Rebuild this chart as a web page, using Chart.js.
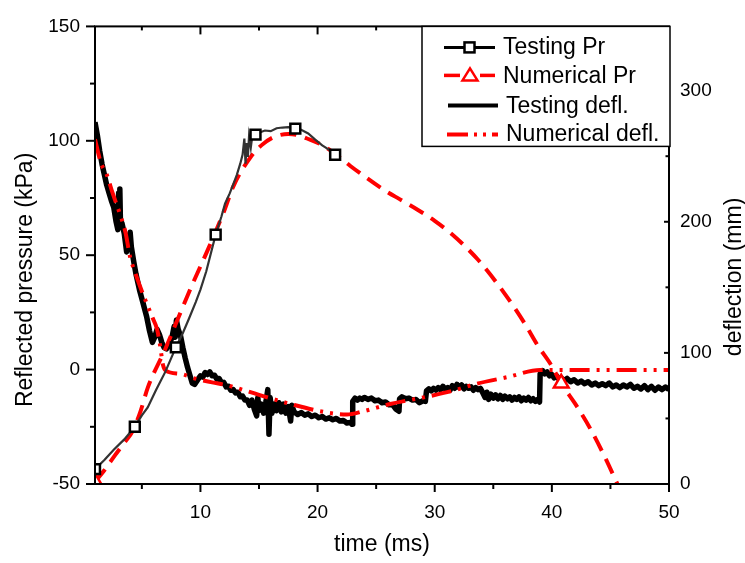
<!DOCTYPE html>
<html>
<head>
<meta charset="utf-8">
<script src="https://cdn.jsdelivr.net/npm/chart.js@4/dist/chart.umd.min.js"></script>
<style>html,body{margin:0;padding:0;background:#fff;}canvas{display:block;}</style>
</head>
<body>
<canvas id="c" width="745" height="563"></canvas>
<script>
// ---------- data ----------
const xTicks = [10, 20, 30, 40, 50];
const prTicks = [-50, 0, 50, 100, 150];
const deflTicks = [0, 100, 200, 300];
const seriesNames = ['Testing Pr', 'Numerical Pr', 'Testing defl.', 'Numerical defl.'];
const axisTitles = { x: 'time (ms)', y: 'Reflected pressure (kPa)', y1: 'deflection (mm)' };

// Testing reflected pressure [time ms, kPa]
const testPr = [[1.0,-43.5],[1.8,-39.5],[2.6,-35],[3.5,-30.5],[4.4,-25],[5.0,-20],[5.5,-16.5],[6.2,-9],[7.0,-1],[7.9,9.7],
  [8.5,16],[9.0,22],[9.6,29.5],[10.0,35],[10.5,43],[11.3,59],[11.8,67],[12.1,72.5],[12.5,77],[12.8,81],[13.1,85],[13.4,90],
  [13.6,94],[13.75,101],[13.85,90],[13.95,99],[14.05,93],[14.15,102],[14.3,97],[14.45,103],[14.7,102.7],[15.0,103.5],
  [15.5,104.5],[16.0,104.2],[16.5,105.5],[17.0,105.8],[17.5,106],[18.1,105.3],[18.6,104.8],[19.2,103.2],[19.8,100.5],
  [20.4,98],[21.0,96],[21.5,93.9]];
const testPrMarks = [1.0, 4.4, 7.9, 11.3, 14.7, 18.1, 21.5];

// Numerical reflected pressure [time ms, kPa]
const numPr = [[1.0,-49],[1.8,-44],[2.7,-37.5],[3.5,-32],[4.2,-27],[4.9,-18],[5.5,-8],[7.0,9],[8.3,25],[9.25,36.5],
  [10.6,52],[12.0,69],[12.8,80],[14.3,93],[15.2,98],[16.2,101.5],[17.5,103],[18.3,102.5],[19.1,101],[20.5,97.8],
  [21.7,93.5],[22.8,89],[24.0,84.5],[25.1,80.5],[26.0,77.5],[27.0,74.5],[28.5,70],[30.0,65],[31.5,59],[33.7,48],
  [36.0,33],[37.7,20],[38.8,10.5],[40.0,1.5],[40.8,-6],[42.0,-15],[43.3,-26],[44.6,-39],[45.6,-50],[46.3,-57]];
const numPrMarks = [1.0, 40.8];

// Testing deflection [time ms, mm]
const testDefl = [[1.0,276],[1.2,266],[1.4,254],[1.6,244],[1.8,236],[2.0,228],[2.2,222],[2.4,216],[2.6,211],[2.8,200],
  [2.95,194],[3.02,222],[3.07,196],[3.12,225],[3.18,196],[3.3,199],[3.5,191],[3.7,177],[3.85,186],[4.0,192],[4.1,181],
  [4.3,170],[4.5,160],[4.8,148],[5.1,138],[5.4,128],[5.65,117],[5.9,108],[6.1,112],[6.3,118],[6.5,114],[6.7,108],
  [6.9,104],[7.1,103],[7.35,106],[7.6,113],[7.75,120],[7.85,112],[7.95,125],[8.1,118],[8.3,113],[8.5,104],[8.7,96],
  [8.9,89],[9.1,83],[9.3,77],[9.5,76],[9.8,80],[10.0,82.5],[10.2,81.5],[10.4,85],[10.6,83.5],[10.8,85.5],[11.0,82.5],
  [11.2,83],[11.4,80],[11.6,80.5],[11.8,77],[12.0,77.5],[12.2,74],[12.4,74.5],[12.6,71.5],[12.8,72],[13.0,69.5],
  [13.2,70],[13.4,66.5],[13.6,67],[13.8,64],[14.0,64],[14.2,60],[14.4,64],[14.6,57],[14.8,52],[14.9,66],[15.0,56],
  [15.2,61],[15.4,54],[15.6,63],[15.75,72],[15.85,38],[15.95,66],[16.1,54],[16.3,61],[16.5,56],[16.7,62],[16.9,55],
  [17.1,61],[17.3,54],[17.5,59],[17.7,48],[17.8,60],[18.0,55],[18.3,53],[18.6,54.5],[18.9,52.5],[19.2,53.5],
  [19.5,51.5],[19.8,52.5],[20.1,50.5],[20.4,51.5],[20.7,49.5],[21.0,50.5],[21.3,49],[21.6,50],[21.9,48],[22.2,48.5],
  [22.5,46.5],[22.8,47],[22.95,45.5],[23.0,63],[23.2,65.5],[23.4,64],[23.6,65.5],[23.8,64.5],[24.0,66],[24.3,64.5],
  [24.6,65.5],[24.9,63.5],[25.2,64],[25.5,62],[25.8,62.5],[26.1,60.5],[26.4,60.5],[26.7,57],[26.95,55.5],[27.0,65],
  [27.2,66.5],[27.5,65],[27.8,65.5],[28.1,64],[28.4,64.5],[28.7,62],[29.0,63.5],[29.2,63],[29.3,71],[29.5,72.5],
  [29.7,71],[29.9,73],[30.1,71.5],[30.3,73.5],[30.5,72],[30.7,74.5],[30.9,72.5],[31.1,73.5],[31.3,71.5],[31.5,75],
  [31.7,73],[31.9,76],[32.1,73.5],[32.3,75.5],[32.5,72.5],[32.7,74.5],[32.9,73],[33.1,74],[33.3,71.5],[33.5,73.5],
  [33.7,72],[33.9,73],[34.1,69.5],[34.3,66],[34.45,70],[34.6,64.5],[34.8,68.5],[35.0,65.5],[35.2,68],[35.4,65],
  [35.6,67.5],[35.8,64.5],[36.0,67],[36.2,65],[36.4,66.5],[36.6,64],[36.8,66],[37.0,64.5],[37.2,66.5],[37.4,63.5],
  [37.6,65.5],[37.8,64],[38.0,66],[38.2,63.5],[38.4,65],[38.6,63],[38.8,64.5],[38.95,62.5],[39.0,84],[39.2,86.5],
  [39.4,84],[39.6,85.5],[39.8,82.5],[40.0,83.5],[40.2,81],[40.4,82.5],[40.6,80],[40.8,81],[41.0,78.5],[41.3,80.5],
  [41.6,78],[41.9,79.5],[42.2,77],[42.5,78.5],[42.8,76.5],[43.1,78],[43.4,75.5],[43.7,77],[44.0,75],[44.3,76.5],
  [44.6,75],[44.9,77],[45.2,74],[45.5,75.5],[45.8,73.5],[46.1,75.5],[46.4,74],[46.7,76],[47.0,73],[47.3,74.5],
  [47.6,72.5],[47.9,75],[48.2,72],[48.5,74.5],[48.8,71.5],[49.1,74],[49.4,72],[49.7,74],[50.0,72]];

// Numerical deflection [time ms, mm]
const numDefl = [[1.0,263],[1.5,245],[2.0,236],[2.5,222],[3.2,204],[3.6,192],[4.0,173],[4.4,162],[5.0,147],[5.4,138],
  [5.9,127],[6.3,118],[6.55,106],[6.8,91],[7.05,86.5],[8.3,84],[9.7,80],[11.0,77.5],[12.4,75],[15.0,68],[17.7,61],
  [20.5,55],[22.5,53],[23.9,55.5],[26.2,61],[29.3,66.5],[31.5,71],[33.6,76.5],[36.2,81.5],[39.0,87],[50.0,87]];

// ---------- chart ----------
const FONT = "'Liberation Sans', Arial, sans-serif";
const RED = '#ff0000';
const toXY = arr => arr.map(([x, y]) => ({ x, y }));
const fixTicks = vals => s => { s.ticks = vals.map(v => ({ value: v })); };

const decor = {
  id: 'decor',
  afterDraw(chart) {
    const { ctx, chartArea: a, scales } = chart;
    ctx.save();
    ctx.strokeStyle = '#000';
    ctx.lineWidth = 2;
    ctx.setLineDash([]);
    ctx.strokeRect(a.left, a.top, a.right - a.left, a.bottom - a.top);

    const minors = (vals, s) => {
      const step = vals[1] - vals[0], out = [];
      for (let v = vals[0] - step / 2; v >= s.min; v -= step) out.push(v);
      vals.forEach(v => { if (v + step / 2 <= s.max) out.push(v + step / 2); });
      return out;
    };
    const line = (x1, y1, x2, y2) => { ctx.beginPath(); ctx.moveTo(x1, y1); ctx.lineTo(x2, y2); ctx.stroke(); };
    const sx = scales.x, sy = scales.y, sy1 = scales.y1;
    xTicks.forEach(v => { const p = sx.getPixelForValue(v); line(p, a.bottom, p, a.bottom + 8); line(p, a.top, p, a.top + 8); });
    minors(xTicks, sx).forEach(v => { const p = sx.getPixelForValue(v); line(p, a.bottom, p, a.bottom + 5); line(p, a.top, p, a.top + 4); });
    prTicks.forEach(v => { const p = sy.getPixelForValue(v); line(a.left - 9, p, a.left, p); });
    minors(prTicks, sy).forEach(v => { const p = sy.getPixelForValue(v); line(a.left - 5, p, a.left, p); });
    deflTicks.forEach(v => { const p = sy1.getPixelForValue(v); line(a.right - 5, p, a.right, p); });
    minors(deflTicks, sy1).forEach(v => { const p = sy1.getPixelForValue(v); line(a.right - 3.5, p, a.right, p); });

    // axis titles
    ctx.fillStyle = '#000';
    ctx.font = '23px ' + FONT;
    ctx.textAlign = 'center';
    ctx.textBaseline = 'alphabetic';
    ctx.fillText(axisTitles.x, (a.left + a.right) / 2, a.bottom + 67);
    ctx.save(); ctx.translate(a.left - 63, a.top + 253.5); ctx.rotate(-Math.PI / 2); ctx.fillText(axisTitles.y, 0, 0); ctx.restore();
    ctx.save(); ctx.translate(a.right + 72, a.top + 250.5); ctx.rotate(-Math.PI / 2); ctx.fillText(axisTitles.y1, 0, 0); ctx.restore();

    // legend
    const L = a.right - 247, T = a.top, R = a.right + 1, B = a.top + 120;
    ctx.fillStyle = '#fff';
    ctx.fillRect(L, T, R - L, B - T);
    ctx.lineWidth = 1.5; ctx.strokeStyle = '#000';
    ctx.strokeRect(L, T, R - L, B - T);
    ctx.font = '23px ' + FONT;
    ctx.textAlign = 'left';
    ctx.fillStyle = '#000';
    const ds = chart.data.datasets;
    // 1 Testing Pr
    let y = T + 21;
    ctx.strokeStyle = ds[0].pointBorderColor; ctx.lineWidth = 3; ctx.setLineDash([]);
    line(L + 22, y, L + 73, y);
    ctx.fillStyle = '#fff'; ctx.lineWidth = 2.5;
    ctx.fillRect(L + 42.5, y - 5, 10, 10); ctx.strokeRect(L + 42.5, y - 5, 10, 10);
    ctx.fillStyle = '#000'; ctx.fillText(ds[0].label, L + 81, T + 28);
    // 2 Numerical Pr
    y = T + 49;
    ctx.strokeStyle = RED; ctx.lineWidth = 3.5;
    line(L + 22, y, L + 38, y); line(L + 58, y, L + 73, y);
    ctx.lineWidth = 2.5; ctx.fillStyle = '#fff';
    ctx.beginPath(); ctx.moveTo(L + 48, y - 7); ctx.lineTo(L + 55.5, y + 5); ctx.lineTo(L + 40.5, y + 5); ctx.closePath();
    ctx.fill(); ctx.stroke();
    ctx.fillStyle = '#000'; ctx.fillText(ds[1].label, L + 81, T + 57);
    // 3 Testing defl.
    y = T + 79;
    ctx.strokeStyle = '#000'; ctx.lineWidth = 4;
    line(L + 26, y, L + 76, y);
    ctx.fillText(ds[2].label, L + 84, T + 87);
    // 4 Numerical defl.
    y = T + 108;
    ctx.strokeStyle = RED; ctx.lineWidth = 4; ctx.setLineDash([21, 6, 3, 6, 3, 6]);
    line(L + 25, y, L + 76, y);
    ctx.setLineDash([]);
    ctx.fillText(ds[3].label, L + 84, T + 115);
    ctx.restore();
  }
};

const tickFont = { family: FONT, size: 19 };
new Chart(document.getElementById('c'), {
  type: 'line',
  data: {
    datasets: [
      { label: seriesNames[0], data: toXY(testPr), yAxisID: 'y', order: 0,
        borderColor: '#333', borderWidth: 2.2, tension: 0,
        pointStyle: 'rect', pointRadius: c => testPrMarks.includes(c.raw.x) ? 7 : 0,
        pointBorderColor: '#000', pointBackgroundColor: '#fff', pointBorderWidth: 2.5 },
      { label: seriesNames[1], data: toXY(numPr), yAxisID: 'y', order: 1,
        borderColor: RED, borderWidth: 4, borderDash: [16, 9], cubicInterpolationMode: 'monotone',
        pointStyle: 'triangle', pointRadius: c => numPrMarks.includes(c.raw.x) ? 8.5 : 0,
        pointBorderColor: RED, pointBackgroundColor: '#fff', pointBorderWidth: 2.5 },
      { label: seriesNames[2], data: toXY(testDefl), yAxisID: 'y1', order: 3,
        borderColor: '#000', borderWidth: 5.5, tension: 0, pointRadius: 0, borderJoinStyle: 'round' },
      { label: seriesNames[3], data: toXY(numDefl), yAxisID: 'y1', order: 2,
        borderColor: RED, borderWidth: 4, borderDash: [20, 7, 3, 7, 3, 7], cubicInterpolationMode: 'monotone', pointRadius: 0 }
    ]
  },
  options: {
    responsive: false,
    animation: false,
    layout: { padding: { top: 17, left: 0, right: 0, bottom: 0 } },
    plugins: { legend: { display: false }, tooltip: { enabled: false } },
    scales: {
      x: { type: 'linear', position: 'bottom', min: 1, max: 50,
        afterBuildTicks: fixTicks(xTicks), afterFit: s => { s.height = 79; },
        grid: { display: false, drawTicks: false }, border: { display: false },
        ticks: { font: tickFont, color: '#000', padding: 17, maxRotation: 0, autoSkip: false } },
      y: { type: 'linear', position: 'left', min: -50, max: 150,
        afterBuildTicks: fixTicks(prTicks), afterFit: s => { s.width = 95; },
        grid: { display: false, drawTicks: false }, border: { display: false },
        ticks: { font: tickFont, color: '#000', padding: 15, autoSkip: false } },
      y1: { type: 'linear', position: 'right', min: 0, max: 349,
        afterBuildTicks: fixTicks(deflTicks), afterFit: s => { s.width = 76; },
        grid: { display: false, drawTicks: false }, border: { display: false },
        ticks: { font: tickFont, color: '#000', padding: 11, autoSkip: false } }
    }
  },
  plugins: [decor]
});
</script>
</body>
</html>
